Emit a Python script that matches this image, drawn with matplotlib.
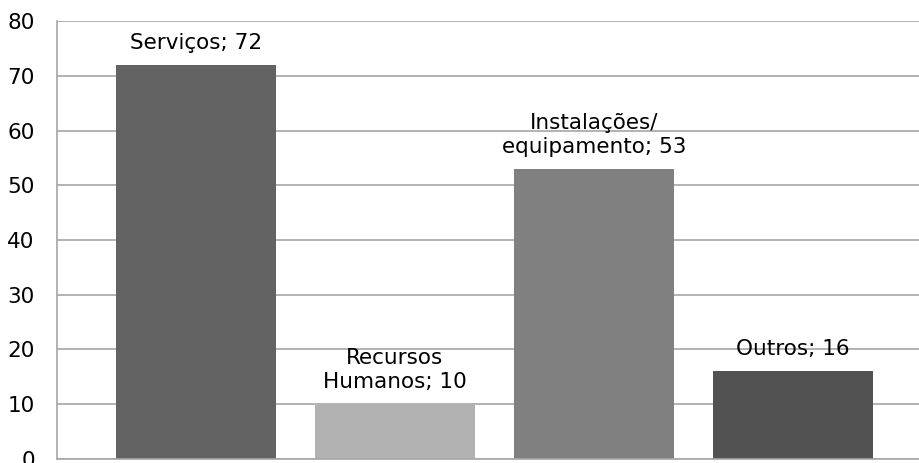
import matplotlib
matplotlib.use("Agg")
import matplotlib.pyplot as plt

categories = ["Serviços", "Recursos\nHumanos", "Instalações/\nequipamento", "Outros"]
values = [72, 10, 53, 16]
colors = ["#636363", "#b2b2b2", "#808080", "#525252"]
yticks = [0, 10, 20, 30, 40, 50, 60, 70, 80]

W, H = 919, 463
fig = plt.figure(figsize=(W / 100, H / 100), dpi=100)
left, right = 57, 919
bottom, top = 458.7, 21.3
ax = fig.add_axes([left / W, (H - bottom) / H, (right - left) / W, (bottom - top) / H])

x = list(range(len(values)))
ax.bar(x, values, width=0.804, color=colors, zorder=2)
ax.set_xlim(-0.698, 3.633)
ax.set_ylim(0, 80)
ax.set_yticks(yticks)
ax.set_xticks([])
ax.yaxis.grid(True, color="#a6a6a6", linewidth=1.2, zorder=0)
ax.set_axisbelow(True)
for s in ["top", "right"]:
    ax.spines[s].set_visible(False)
for s in ["left", "bottom"]:
    ax.spines[s].set_color("#a6a6a6")
    ax.spines[s].set_linewidth(1.2)
ax.tick_params(axis="y", length=0, pad=16, labelsize=15.5, labelcolor="black")
for lab in ax.get_yticklabels():
    lab.set_clip_on(False)

for xi, v, c in zip(x, values, categories):
    ax.annotate(f"{c}; {v}", xy=(xi, v), xytext=(0, 8.5), textcoords="offset points",
                ha="center", va="bottom", fontsize=15.5, color="black",
                linespacing=1.27, zorder=3)

fig.savefig("out.png", dpi=100)
